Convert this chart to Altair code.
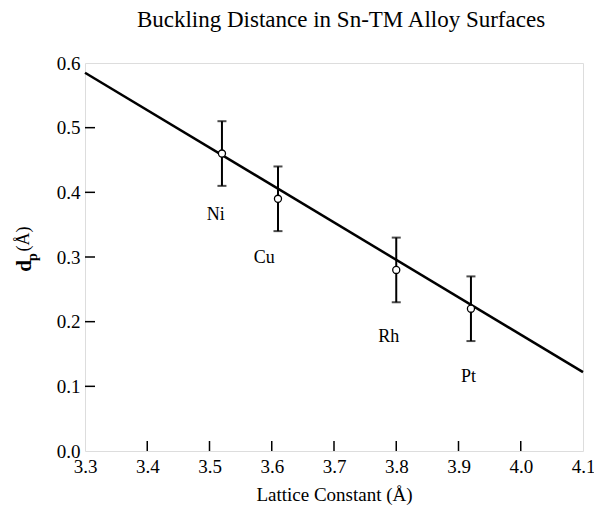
import altair as alt
import pandas as pd

# Data
metals = ["Ni", "Cu", "Rh", "Pt"]
lattice = [3.52, 3.61, 3.80, 3.92]
dp = [0.46, 0.39, 0.28, 0.22]
err = [0.05, 0.05, 0.05, 0.05]
label_x = [3.51, 3.588, 3.788, 3.916]
label_y = [0.365, 0.298, 0.176, 0.114]

fit_x = [3.3, 4.1]
fit_y = [0.585, 0.122]

x_ticks = [3.3, 3.4, 3.5, 3.6, 3.7, 3.8, 3.9, 4.0, 4.1]
y_ticks = [0.0, 0.1, 0.2, 0.3, 0.4, 0.5, 0.6]
x_inner = [3.4, 3.5, 3.6, 3.7, 3.8, 3.9, 4.0]
y_inner = [0.1, 0.2, 0.3, 0.4, 0.5]

W, H = 498, 388
FONT = "Liberation Serif"

pts = pd.DataFrame({"metal": metals, "x": lattice, "y": dp,
                    "lo": [v - e for v, e in zip(dp, err)],
                    "hi": [v + e for v, e in zip(dp, err)],
                    "lx": label_x, "ly": label_y})
fit = pd.DataFrame({"x": fit_x, "y": fit_y})
xt = pd.DataFrame({"x": x_inner})
yt = pd.DataFrame({"y": y_inner})

xs = alt.Scale(domain=[3.3, 4.1], nice=False, zero=False)
ys = alt.Scale(domain=[0.0, 0.6], nice=False, zero=False)

xaxis = alt.Axis(values=x_ticks, format=".1f", domain=False, ticks=False, tickSize=0,
                 grid=False, labelFont=FONT, labelFontSize=19, labelColor="black",
                 labelPadding=6, title="Lattice Constant (Å)", titleFont=FONT,
                 titleFontSize=19, titleFontWeight="normal", titleColor="black",
                 titlePadding=9, labelFlush=False)
yaxis = alt.Axis(values=y_ticks, format=".1f", domain=False, ticks=False, tickSize=0,
                 grid=False, labelFont=FONT, labelFontSize=19, labelColor="black",
                 labelPadding=5, title=None, labelFlush=False)

line = alt.Chart(fit).mark_line(color="black", strokeWidth=2.5).encode(
    x=alt.X("x:Q", scale=xs, axis=xaxis),
    y=alt.Y("y:Q", scale=ys, axis=yaxis),
)

bars = alt.Chart(pts).mark_rule(color="black", strokeWidth=2).encode(
    x=alt.X("x:Q", scale=xs), y=alt.Y("lo:Q", scale=ys), y2="hi:Q")
cap_lo = alt.Chart(pts).mark_tick(color="black", orient="horizontal", size=9, thickness=2).encode(
    x=alt.X("x:Q", scale=xs), y=alt.Y("lo:Q", scale=ys))
cap_hi = alt.Chart(pts).mark_tick(color="black", orient="horizontal", size=9, thickness=2).encode(
    x=alt.X("x:Q", scale=xs), y=alt.Y("hi:Q", scale=ys))

circles = alt.Chart(pts).mark_point(shape="circle", size=50, filled=True, fill="white",
                                    stroke="black", strokeWidth=1.3, opacity=1).encode(
    x=alt.X("x:Q", scale=xs), y=alt.Y("y:Q", scale=ys))

labels = alt.Chart(pts).mark_text(font=FONT, fontSize=18, color="black",
                                  align="center", baseline="middle").encode(
    x=alt.X("lx:Q", scale=xs), y=alt.Y("ly:Q", scale=ys), text="metal:N")

xtick_rules = alt.Chart(xt).mark_rule(color="black", strokeWidth=1.5).encode(
    x=alt.X("x:Q", scale=xs), y=alt.value(H), y2=alt.value(H - 10))
ytick_rules = alt.Chart(yt).mark_rule(color="black", strokeWidth=1.5).encode(
    y=alt.Y("y:Q", scale=ys), x=alt.value(0), x2=alt.value(10))

# y-axis title: d with subscript p, rotated
yt_d = alt.Chart(pd.DataFrame({"t": ["d"]})).mark_text(
    font=FONT, fontSize=21, fontWeight="bold", angle=270, align="center",
    baseline="middle", color="black").encode(
    x=alt.value(-60), y=alt.value(203), text="t:N")
yt_p = alt.Chart(pd.DataFrame({"t": ["p"]})).mark_text(
    font=FONT, fontSize=14, fontWeight="bold", angle=270, align="center",
    baseline="middle", color="black").encode(
    x=alt.value(-52), y=alt.value(194), text="t:N")
yt_a = alt.Chart(pd.DataFrame({"t": ["(Å)"]})).mark_text(
    font=FONT, fontSize=18, angle=270, align="center",
    baseline="middle", color="black").encode(
    x=alt.value(-61), y=alt.value(176), text="t:N")

chart = alt.layer(line, bars, cap_lo, cap_hi, circles, labels, xtick_rules, ytick_rules,
                  yt_d, yt_p, yt_a).properties(
    width=W, height=H,
    autosize=alt.AutoSizeParams(type="none"),
    padding={"left": 85, "top": 63, "right": 11, "bottom": 64},
    title=alt.TitleParams("Buckling Distance in Sn-TM Alloy Surfaces", font=FONT,
                          fontSize=23, fontWeight="normal", color="black",
                          anchor="middle", baseline="alphabetic", offset=4, dx=7),
).configure_view(stroke="black", strokeWidth=1.8).configure(background="white")

chart.save("out.html", embed_options={"renderer": "svg", "actions": False})
